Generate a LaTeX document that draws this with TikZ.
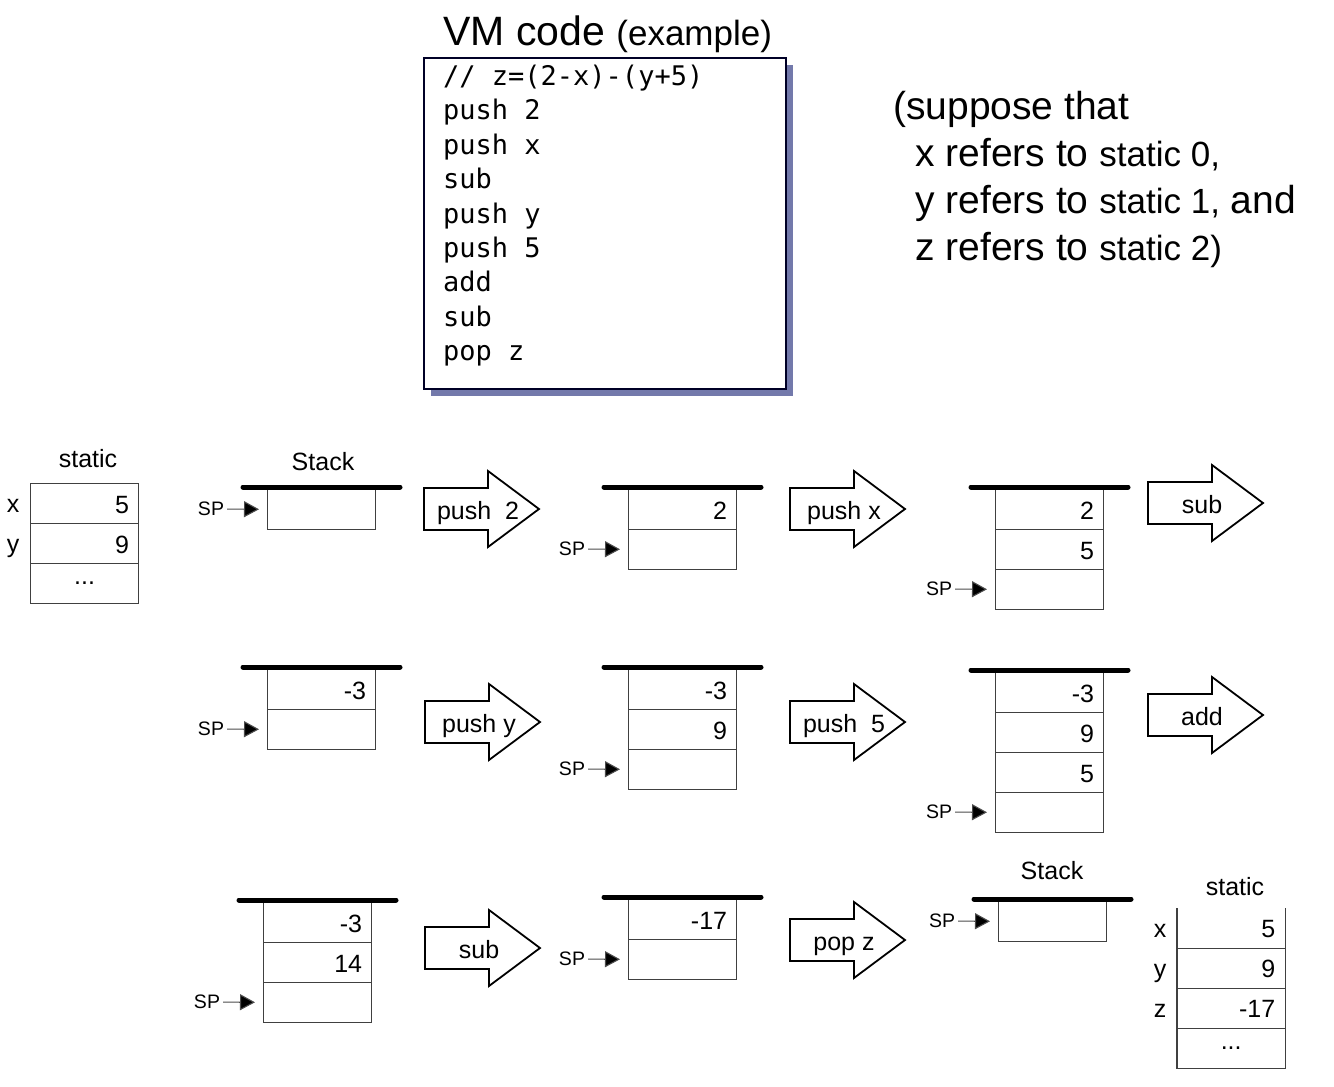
\documentclass[tikz,border=0pt]{standalone}
\usepackage{fontspec}
\setmainfont{Liberation Sans}
\newfontfamily\codefont{DejaVu Sans Mono}
\usetikzlibrary{arrows.meta,shadows}
\tikzset{
 lbl/.style={inner sep=0pt, font=\fontsize{25}{30}\selectfont},
 cellbox/.style={draw=black!75, line width=1.3pt, minimum width=108pt, minimum height=40pt, inner sep=0pt, anchor=north west},
 plaincell/.style={minimum width=108pt, minimum height=40pt, inner sep=0pt, anchor=north west},
 val/.style={inner sep=0pt, anchor=base east, font=\fontsize{25}{30}\selectfont},
 spl/.style={inner sep=0pt, font=\fontsize{19.5}{23}\selectfont},
 sparrow/.style={draw=black!70, line width=1.1pt, -{Triangle[length=15pt,width=16pt,fill=black]}, shorten >=8pt, shorten <=3pt},
 stackbar/.style={line width=5pt, line cap=round},
 blockarrow/.style={draw, line width=1.8pt, fill=white, line join=miter},
 suptext/.style={anchor=base west, inner sep=0pt, font=\fontsize{39}{46}\selectfont},
 codeline/.style={anchor=base west, inner sep=0pt, font=\codefont\fontsize{27}{34}\selectfont},
}
\newcommand\mkstack[6]{%
  \foreach \v [count=\i] in {#5} {
    \node[cellbox] (#1c\i) at (#2,{#3+40*(\i-1)}) {};
    \node[val] (#1v\i) at ([xshift=-10pt,yshift=-9.5pt]#1c\i.east) {\v};
  }
  \coordinate (#1bl) at (#2-24,#4);
  \coordinate (#1br) at (#2+133,#4);
  \draw[stackbar] (#1bl) -- (#1br);
  \node[spl] (#1sp) at (#2-56,{#3+40*(#6-1)+20}) {SP};
  \draw[sparrow] (#1sp) -- (#1c#6);
}
\newcommand\mkarrow[4]{%
  \draw[blockarrow] (#2,#3-21) -- (#2+64,#3-21) -- (#2+64,#3-38) -- (#2+115,#3)
     -- (#2+64,#3+38) -- (#2+64,#3+21) -- (#2,#3+21) -- cycle;
  \node[lbl, anchor=base] (#1) at (#2+54,#3+10.5) {#4};
}
\begin{document}
\begin{tikzpicture}[x=1pt,y=-1pt]
\useasboundingbox (0,0) rectangle (1334,1087);

% title and code box
\node[anchor=base west, inner sep=0pt] (title) at (443,45)
  {\fontsize{41}{48}\selectfont VM code \fontsize{35}{40}\selectfont(example)};
\node[draw=black!85!blue, line width=1.5pt, fill=white, minimum width=362pt, minimum height=331pt,
  anchor=north west, inner sep=0pt,
  drop shadow={fill={rgb,255:red,80;green,88;blue,150}, shadow xshift=7pt, shadow yshift=-7pt, opacity=0.8}]
  (codebox) at (423,57) {};
\foreach \t [count=\i] in {// z=(2-x)-(y+5),push 2,push x,sub,push y,push 5,add,sub,pop z}
  \node[codeline] (code\i) at (443,{85.5+34.4*(\i-1)}) {\t};

% explanation
\node[suptext] (sup1) at (893,119) {(suppose that};
\node[suptext] (sup2) at (915,166) {x refers to {\fontsize{35}{40}\selectfont static 0,}};
\node[suptext] (sup3) at (915,213) {y refers to {\fontsize{35}{40}\selectfont static 1,} and};
\node[suptext] (sup4) at (915,260) {z refers to {\fontsize{35}{40}\selectfont static 2)}};

% left static segment
\node[lbl] (st1) at (88,459) {static};
\node[cellbox] (s1c1) at (30,483) {};
\node[cellbox] (s1c2) at (30,523) {};
\node[cellbox] (s1c3) at (30,563) {};
\node[val] (s1v1) at ([xshift=-10pt,yshift=-9.5pt]s1c1.east) {5};
\node[val] (s1v2) at ([xshift=-10pt,yshift=-9.5pt]s1c2.east) {9};
\node[lbl] (s1v3) at (s1c3.center) {...};
\node[lbl, anchor=base] (s1x) at (13,512.5) {x};
\node[lbl, anchor=base] (s1y) at (13,552.5) {y};

% row 1
\node[lbl] (stk1) at (323,462) {Stack};
\mkstack{a}{267}{489}{487}{{}}{1}
\mkarrow{ar1}{424}{509}{push\ \ 2}
\mkstack{b}{628}{489}{487}{2,{}}{2}
\mkarrow{ar2}{790}{509}{push x}
\mkstack{c}{995}{489}{487}{2,5,{}}{3}
\mkarrow{ar3}{1148}{503}{sub}

% row 2
\mkstack{d}{267}{669}{667}{-3,{}}{2}
\mkarrow{ar4}{425}{722}{push y}
\mkstack{e}{628}{669}{667}{-3,9,{}}{3}
\mkarrow{ar5}{790}{722}{push\ \ 5}
\mkstack{f}{995}{672}{670}{-3,9,5,{}}{4}
\mkarrow{ar6}{1148}{715}{add}

% row 3
\mkstack{g}{263}{902}{900}{-3,14,{}}{3}
\mkarrow{ar7}{425}{948}{sub}
\mkstack{h}{628}{899}{897}{-17,{}}{2}
\mkarrow{ar8}{790}{940}{pop z}
\node[lbl] (stk2) at (1052,871) {Stack};
\mkstack{k}{998}{901}{899}{{}}{1}

% right static segment
\node[lbl] (st2) at (1235,887) {static};
\foreach \i in {1,...,4}
  \node[plaincell] (s2c\i) at (1177,{908+40*(\i-1)}) {};
\draw[draw=black!75, line width=1.3pt] (s2c1.north west) -- (s2c4.south west) -- (s2c4.south east) -- (s2c1.north east);
\draw[draw=black!75, line width=1.3pt] (s2c1.south west) -- (s2c1.south east);
\draw[draw=black!75, line width=1.3pt] (s2c2.south west) -- (s2c2.south east);
\draw[draw=black!75, line width=1.3pt] (s2c3.south west) -- (s2c3.south east);
\node[val] (s2v1) at ([xshift=-10pt,yshift=-9.5pt]s2c1.east) {5};
\node[val] (s2v2) at ([xshift=-10pt,yshift=-9.5pt]s2c2.east) {9};
\node[val] (s2v3) at ([xshift=-10pt,yshift=-9.5pt]s2c3.east) {-17};
\node[lbl] (s2v4) at (s2c4.center) {...};
\node[lbl, anchor=base] (s2x) at (1160,937.5) {x};
\node[lbl, anchor=base] (s2y) at (1160,977.5) {y};
\node[lbl, anchor=base] (s2z) at (1160,1017.5) {z};
\end{tikzpicture}
\end{document}
